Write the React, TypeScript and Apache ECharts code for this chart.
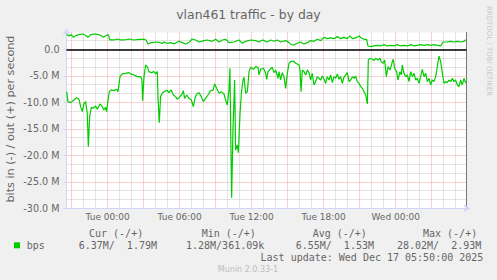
import React, { useEffect, useRef } from "react";
import * as echarts from "echarts";

// hours relative to Tue 00:00, values in Mbit/s
const outData: [number, number][] = [
  [-3.42, 2.77], [-3.23, 2.52], [-3.03, 2.77], [-2.86, 2.26], [-2.67, 2.58], [-2.39, 2.77], [-2.11, 2.89],
  [-1.84, 2.64], [-1.64, 2.26], [-1.42, 2.77], [-1.14, 2.89], [-0.86, 2.83], [-0.59, 2.64], [-0.36, 2.26],
  [-0.09, 2.64], [0.05, 2.77], [0.19, 1.76], [0.53, 1.76], [0.8, 1.95], [1.08, 1.76], [1.36, 1.76],
  [1.78, 1.95], [2.19, 1.76], [2.61, 1.89], [3.03, 1.89], [3.19, 1.76], [3.36, 1.01], [3.64, 1.26],
  [4.14, 1.38], [4.56, 1.13], [4.69, 1.38], [4.97, 1.13], [5.25, 1.26], [5.53, 1.01], [5.94, 1.51],
  [6.22, 1.26], [6.5, 1.01], [6.78, 1.32], [7.05, 1.95], [7.33, 1.76], [7.61, 1.38], [8.03, 1.64],
  [8.3, 1.76], [8.72, 1.51], [9.0, 1.89], [9.28, 1.38], [9.55, 1.76], [9.83, 1.89], [10.11, 1.26],
  [10.53, 1.38], [10.94, 1.76], [11.22, 1.13], [11.5, 1.51], [11.91, 1.76], [12.33, 1.64], [12.61, 1.38],
  [12.89, 1.76], [13.03, 1.64], [13.3, 1.38], [13.58, 1.76], [13.86, 1.51], [14.14, 1.76], [14.41, 1.38],
  [14.83, 1.64], [15.11, 1.26], [15.3, 0.88], [15.53, 0.82], [15.8, 1.13], [16.08, 1.38], [16.36, 1.01],
  [16.64, 1.26], [16.91, 1.64], [17.19, 1.51], [17.47, 1.89], [17.75, 1.64], [18.03, 2.26], [18.3, 2.01],
  [18.58, 2.14], [18.86, 2.01], [19.14, 2.39], [19.41, 2.01], [19.69, 2.26], [19.97, 2.01], [20.19, 2.52],
  [20.39, 2.01], [20.66, 2.14], [20.94, 2.52], [21.14, 2.14], [21.36, 1.89], [21.58, 1.89], [21.69, 0.63],
  [21.91, 0.5], [22.19, 0.63], [22.47, 0.75], [22.75, 0.63], [23.03, 0.88], [23.3, 0.63], [23.58, 0.75],
  [23.86, 0.63], [24.14, 0.88], [24.41, 0.63], [24.69, 0.75], [24.97, 0.63], [25.25, 0.88], [25.53, 0.63],
  [25.8, 0.75], [26.08, 0.88], [26.36, 0.75], [26.64, 0.88], [26.91, 0.75], [27.19, 0.88], [27.47, 0.75],
  [27.75, 0.63], [27.94, 1.38], [28.3, 1.38], [28.58, 1.51], [28.86, 1.38], [29.14, 1.51], [29.41, 1.38],
  [29.69, 1.51], [29.83, 1.79],
];

const inData: [number, number][] = [
  [-3.42, -7.99], [-3.31, -9.87], [-3.09, -10.06], [-2.81, -9.56], [-2.59, -9.12], [-2.39, -9.43],
  [-2.25, -10.82], [-2.11, -11.76], [-1.98, -10.31], [-1.84, -9.87], [-1.7, -12.08], [-1.61, -18.36],
  [-1.5, -12.7], [-1.36, -10.94], [-1.2, -11.13], [-1.0, -10.69], [-0.86, -11.32], [-0.64, -10.31],
  [-0.45, -10.82], [-0.31, -11.45], [-0.17, -10.94], [-0.09, -11.76], [0.03, -9.69], [0.14, -7.99],
  [0.3, -7.67], [0.53, -7.8], [0.75, -7.55], [0.86, -7.99], [1.03, -5.16], [1.22, -4.65], [1.5, -4.53],
  [1.78, -4.4], [1.91, -4.65], [2.19, -4.84], [2.47, -5.16], [2.75, -5.16], [2.86, -5.79], [2.91, -9.69],
  [3.03, -5.16], [3.16, -2.96], [3.3, -3.27], [3.44, -4.21], [3.64, -4.4], [3.86, -4.21], [4.0, -4.65],
  [4.14, -4.21], [4.19, -8.93], [4.3, -13.84], [4.41, -8.93], [4.55, -8.3], [4.69, -7.99], [4.97, -7.74],
  [5.11, -8.18], [5.3, -7.67], [5.47, -8.62], [5.66, -8.93], [5.8, -9.43], [6.03, -8.93], [6.22, -8.3],
  [6.3, -7.8], [6.41, -9.25], [6.58, -8.62], [6.78, -9.25], [6.97, -9.56], [7.14, -10.82], [7.25, -9.43],
  [7.41, -8.43], [7.61, -8.18], [7.8, -8.93], [7.97, -9.87], [8.16, -9.25], [8.36, -8.62], [8.58, -7.8],
  [8.8, -7.67], [8.91, -6.54], [9.08, -7.36], [9.28, -8.3], [9.47, -7.99], [9.69, -8.43], [9.83, -9.56],
  [9.97, -10.5], [10.11, -7.67], [10.19, -3.58], [10.25, -15.22], [10.33, -28.02], [10.44, -15.22],
  [10.58, -5.79], [10.66, -19.0], [10.8, -18.05], [10.89, -19.5], [11.03, -12.08], [11.14, -8.3],
  [11.28, -5.79], [11.36, -5.28], [11.5, -8.3], [11.64, -7.99], [11.78, -4.21], [11.91, -3.4],
  [12.14, -3.77], [12.33, -3.27], [12.53, -3.4], [12.61, -4.84], [12.75, -3.77], [12.97, -3.58],
  [13.03, -3.77], [13.16, -4.53], [13.25, -5.66], [13.36, -4.21], [13.53, -3.77], [13.72, -3.4],
  [13.86, -4.4], [14.0, -3.9], [14.19, -5.47], [14.28, -4.21], [14.41, -5.79], [14.55, -4.4], [14.69, -5.16],
  [14.83, -7.36], [14.97, -4.53], [15.11, -2.64], [15.25, -2.33], [15.47, -2.2], [15.66, -2.64],
  [15.8, -2.77], [15.94, -2.96], [16.03, -3.9], [16.11, -7.99], [16.22, -3.9], [16.36, -4.21], [16.5, -4.84],
  [16.64, -3.9], [16.78, -4.4], [16.91, -5.79], [17.05, -4.53], [17.19, -6.73], [17.33, -6.1], [17.47, -5.16],
  [17.61, -5.47], [17.75, -5.79], [17.89, -5.03], [18.03, -5.66], [18.16, -6.42], [18.3, -5.16],
  [18.44, -5.79], [18.58, -4.84], [18.72, -6.29], [18.86, -5.16], [19.0, -5.47], [19.14, -4.65],
  [19.28, -5.66], [19.41, -5.16], [19.55, -6.42], [19.69, -5.28], [19.83, -4.84], [19.97, -4.4],
  [20.11, -6.1], [20.25, -5.79], [20.39, -5.16], [20.53, -5.47], [20.66, -5.03], [20.8, -6.1], [20.94, -6.42],
  [21.08, -7.04], [21.22, -7.36], [21.36, -7.99], [21.5, -8.62], [21.64, -10.31], [21.72, -2.01],
  [21.86, -1.7], [22.05, -1.89], [22.19, -2.14], [22.33, -1.7], [22.53, -2.01], [22.69, -1.7], [22.8, -2.33],
  [22.97, -2.64], [23.08, -2.01], [23.22, -5.16], [23.36, -3.27], [23.53, -3.9], [23.72, -2.33],
  [23.8, -1.89], [23.91, -3.58], [24.08, -4.21], [24.19, -5.79], [24.36, -4.21], [24.47, -4.84],
  [24.55, -2.96], [24.69, -4.53], [24.83, -5.16], [24.97, -4.84], [25.11, -6.1], [25.25, -4.21],
  [25.39, -5.16], [25.53, -4.53], [25.66, -5.79], [25.8, -5.47], [25.94, -6.42], [26.08, -5.16],
  [26.22, -3.77], [26.36, -5.16], [26.5, -4.53], [26.64, -6.1], [26.78, -5.47], [26.91, -6.73],
  [27.05, -5.79], [27.19, -6.1], [27.33, -5.16], [27.47, -3.27], [27.61, -1.28], [27.75, -2.33],
  [27.89, -4.53], [28.03, -6.42], [28.16, -6.1], [28.3, -6.29], [28.44, -5.79], [28.58, -6.1], [28.72, -5.47],
  [28.86, -6.1], [28.99, -5.79], [29.14, -6.73], [29.28, -7.04], [29.41, -5.79], [29.55, -6.73],
  [29.69, -5.47], [29.83, -6.37],
];

const xMajorHours = [-3, 0, 3, 6, 9, 12, 15, 18, 21, 24, 27];
const xMinorHours = [-2, -1, 1, 2, 4, 5, 7, 8, 10, 11, 13, 14, 16, 17, 19, 20, 22, 23, 25, 26, 28, 29];
const xLabelHours = [0, 6, 12, 18, 24];
const xLabelNames = ["Tue 00:00", "Tue 06:00", "Tue 12:00", "Tue 18:00", "Wed 00:00"];
const yMajorTicks = [-30, -25, -20, -15, -10, -5, 0];
const yMinorTicks = [-28.33, -26.67, -23.33, -21.67, -18.33, -16.67, -13.33, -11.67, -8.33, -6.67, -3.33, -1.67, 1.67];

const legendHeaders = ["Cur (-/+)", "Min (-/+)", "Avg (-/+)", "Max (-/+)"];
const legendValues = ["6.37M/  1.79M", "1.28M/361.09k", "6.55M/  1.53M", "28.02M/  2.93M"];
const legendName = "bps";
const lastUpdate = "Last update: Wed Dec 17 05:50:00 2025";
const titleText = "vlan461 traffic - by day";
const yTitle = "bits in (-) / out (+) per second";
const watermark = "Munin 2.0.33-1";
const sideText = "RRDTOOL / TOBI OETIKER";

const W = 497;
const H = 280;
const GREEN = "#00CC00";
const FONT = "#666666";
const AXIS = "#CFD6F8";
const SANS = "DejaVu Sans";
const MONO = "DejaVu Sans Mono";

export default function App() {
  const ref = useRef<HTMLDivElement>(null);
  useEffect(() => {
    const chart = echarts.init(ref.current!, null, { renderer: "svg", width: W, height: H });
    const headerX = [89, 201.7, 312.7, 423];
    const valueX = [78.7, 186, 295.7, 397];
    const graphics: any[] = [
      { type: "text", x: 248.5, y: 14, style: { text: titleText, fill: FONT, fontSize: 12.4, fontFamily: SANS, textAlign: "center", textVerticalAlign: "middle" } },
      { type: "text", x: 10, y: 119, rotation: Math.PI / 2, style: { text: yTitle, fill: FONT, fontSize: 11.2, fontFamily: SANS, textAlign: "center", textVerticalAlign: "middle" } },
      { type: "text", x: 488.5, y: 51, rotation: -Math.PI / 2, style: { text: sideText, fill: "#c8c8c8", fontSize: 7, fontFamily: SANS, textAlign: "center", textVerticalAlign: "middle" } },
      { type: "rect", shape: { x: 14, y: 242.3, width: 6, height: 6 }, style: { fill: GREEN } },
      { type: "text", x: 26.7, y: 245.7, style: { text: legendName, fill: FONT, fontSize: 10, fontFamily: MONO, textAlign: "left", textVerticalAlign: "middle" } },
      { type: "text", x: 483.3, y: 257.7, style: { text: lastUpdate, fill: FONT, fontSize: 10, fontFamily: MONO, textAlign: "right", textVerticalAlign: "middle" } },
      { type: "text", x: 248, y: 269.5, style: { text: watermark, fill: "#bdbdbd", fontSize: 8, fontFamily: SANS, textAlign: "center", textVerticalAlign: "middle" } },
    ];
    legendHeaders.forEach((t, i) => {
      graphics.push({ type: "text", x: headerX[i], y: 233.3, style: { text: t, fill: FONT, fontSize: 10, fontFamily: MONO, textAlign: "left", textVerticalAlign: "middle" } });
    });
    legendValues.forEach((t, i) => {
      graphics.push({ type: "text", x: valueX[i], y: 245.7, style: { text: t, fill: FONT, fontSize: 10, fontFamily: MONO, textAlign: "left", textVerticalAlign: "middle", whiteSpace: "pre" } });
    });

    const xMin = -3.43;
    const xMax = 29.9;
    const yMin = -30;
    const yMax = 3.17;

    chart.setOption({
      animation: false,
      backgroundColor: "#F0F0F0",
      grid: {
        left: 66.5,
        right: 30.5,
        top: 32.5,
        bottom: 71.7,
        show: true,
        backgroundColor: "#FFFFFF",
        borderWidth: 0,
        containLabel: false,
        outerBoundsMode: "none",
      },
      xAxis: [
        {
          type: "value",
          min: xMin,
          max: xMax,
          position: "bottom",
          axisLine: { show: true, onZero: false, lineStyle: { color: AXIS, width: 1 }, symbol: ["none", "arrow"], symbolSize: [6, 7], symbolOffset: [0, 4] },
          axisTick: { show: false, customValues: xMajorHours },
          axisLabel: {
            customValues: xLabelHours,
            formatter: (v: number) => {
              const i = xLabelHours.indexOf(Math.round(v));
              return i >= 0 ? xLabelNames[i] : "";
            },
            color: FONT,
            fontSize: 9,
            fontFamily: SANS,
            margin: 4,
          },
          splitLine: { show: true, lineStyle: { color: "#f0a0a0", width: 1, type: [1, 1] } },
          z: 1,
        },
        {
          type: "value",
          min: xMin,
          max: xMax,
          position: "bottom",
          axisLine: { show: false, onZero: false },
          axisTick: { show: false, customValues: xMinorHours },
          axisLabel: { show: false },
          splitLine: { show: true, lineStyle: { color: "#c8c8c8", width: 1, type: [1, 1] } },
          z: 0,
        },
      ],
      yAxis: [
        {
          type: "value",
          min: yMin,
          max: yMax,
          position: "left",
          axisLine: { show: true, onZero: false, lineStyle: { color: AXIS, width: 1 }, symbol: ["none", "arrow"], symbolSize: [6, 7], symbolOffset: [0, 4] },
          axisTick: { show: true, customValues: yMajorTicks, length: 3, inside: false, lineStyle: { color: AXIS } },
          axisLabel: {
            customValues: yMajorTicks,
            formatter: (v: number) => (Math.abs(v) < 1e-9 ? "0.0" : `${v.toFixed(1)} M`),
            color: FONT,
            fontSize: 9.6,
            fontFamily: SANS,
            margin: 7,
          },
          splitLine: { show: true, lineStyle: { color: "#f0a0a0", width: 1, type: [1, 1] } },
          z: 1,
        },
        {
          type: "value",
          min: yMin,
          max: yMax,
          position: "right",
          axisLine: { show: true, onZero: false, lineStyle: { color: "#777777", width: 1 } },
          axisTick: { show: false, customValues: yMinorTicks },
          axisLabel: { show: false },
          splitLine: { show: true, lineStyle: { color: "#c8c8c8", width: 1, type: [1, 1] } },
          z: 0,
        },
      ],
      series: [
        {
          type: "line",
          name: "out",
          data: outData,
          xAxisIndex: 0,
          yAxisIndex: 0,
          showSymbol: false,
          symbol: "none",
          lineStyle: { color: GREEN, width: 1.2 },
          itemStyle: { color: GREEN },
          z: 3,
          markLine: {
            silent: true,
            symbol: ["none", "none"],
            label: { show: false },
            lineStyle: { color: "#000000", width: 1.5, type: "solid" },
            data: [{ yAxis: 0 }],
          },
        },
        {
          type: "line",
          name: "in",
          data: inData,
          xAxisIndex: 0,
          yAxisIndex: 0,
          showSymbol: false,
          symbol: "none",
          lineStyle: { color: GREEN, width: 1.2 },
          itemStyle: { color: GREEN },
          z: 3,
        },
      ],
      graphic: graphics,
    });
    return () => chart.dispose();
  }, []);
  return (
    <div
      ref={ref}
      style={{ position: "fixed", left: 0, top: 0, width: W, height: H, background: "#F0F0F0" }}
    />
  );
}
